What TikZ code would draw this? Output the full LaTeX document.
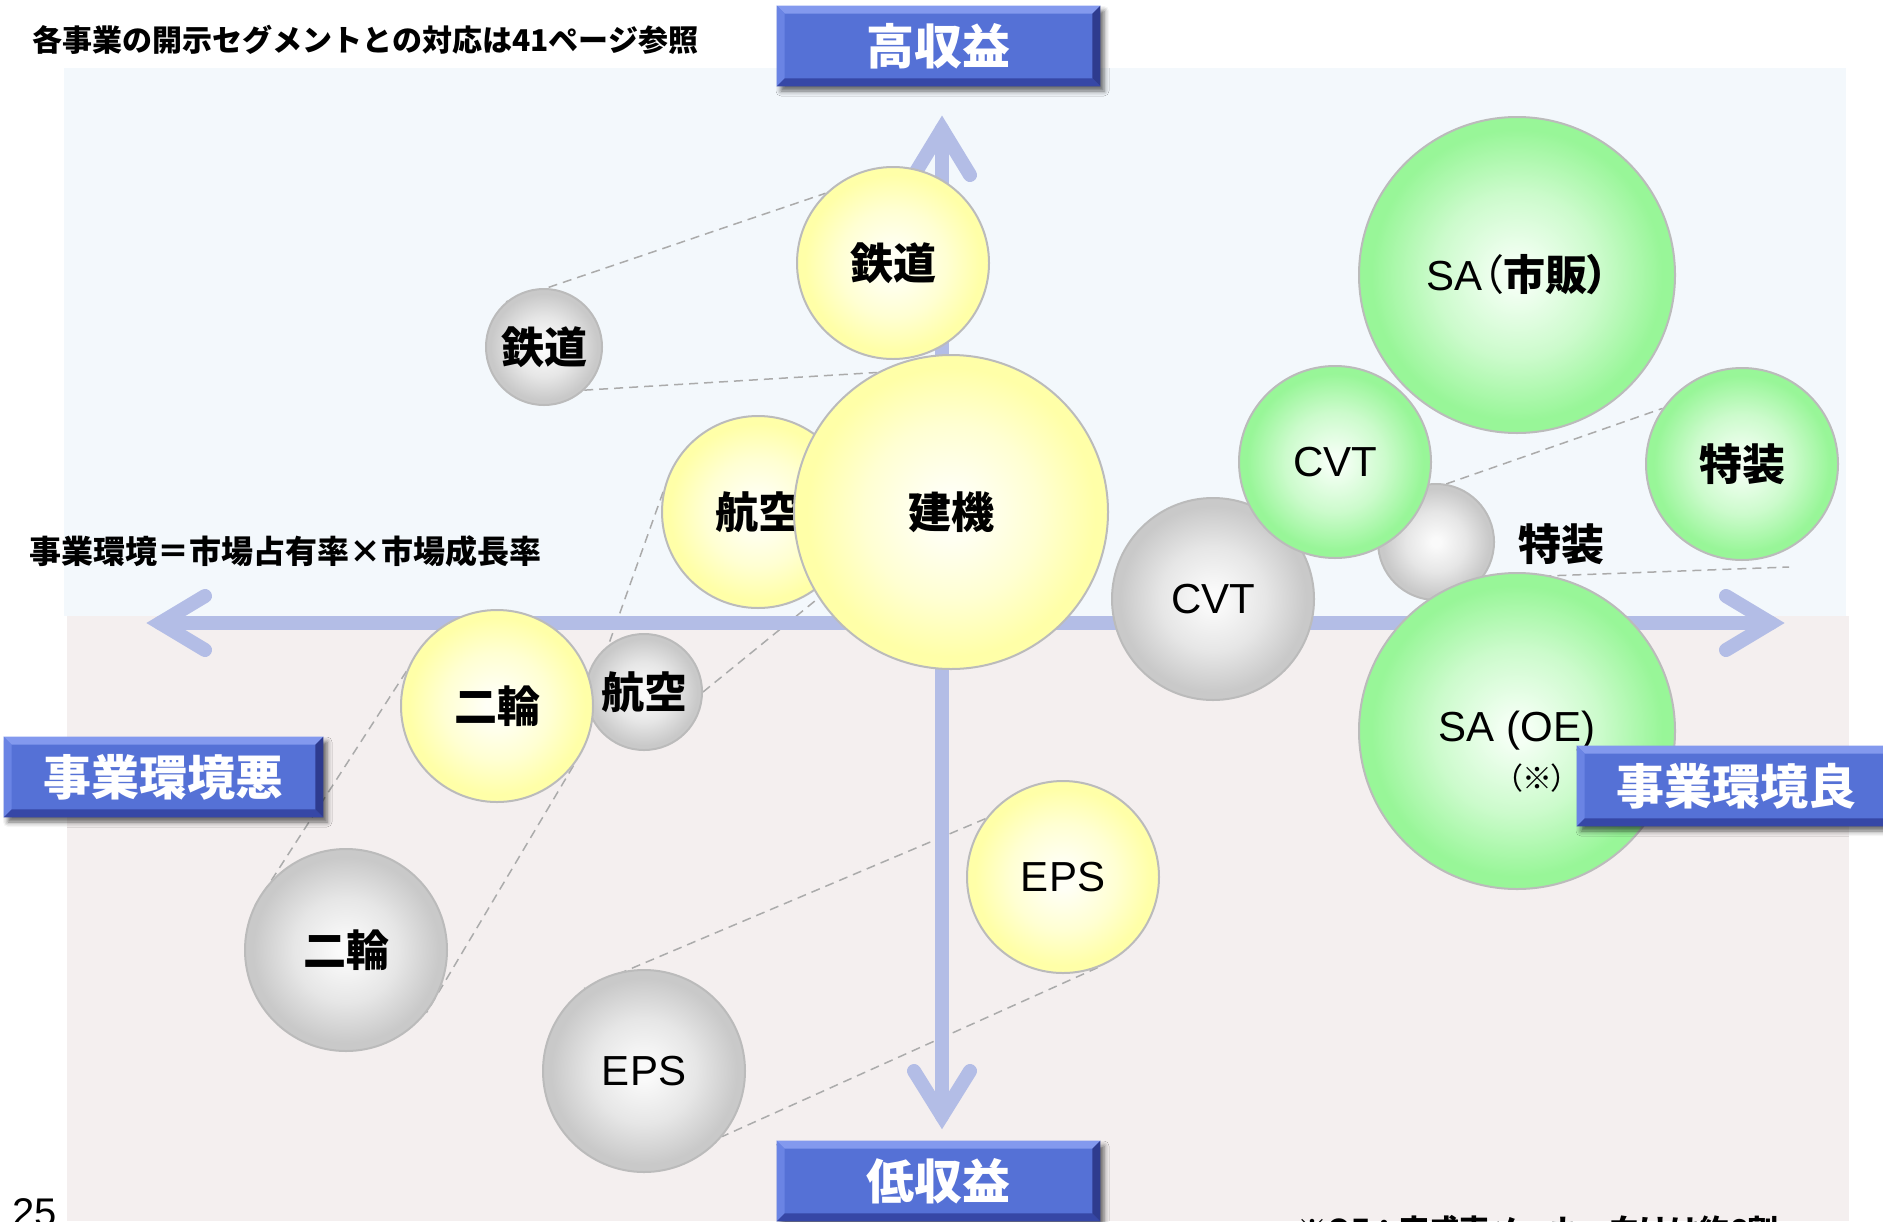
\documentclass[tikz,border=0pt]{standalone}
\usepackage{fontspec}
\setmainfont{Liberation Sans}
\newfontfamily\jp{Noto Sans CJK JP}
\newfontfamily\jpp{Noto Sans CJK JP}[RawFeature=+palt]
\usetikzlibrary{calc,shadows.blur}
\definecolor{upbg}{HTML}{F3F8FC}
\definecolor{lowbg}{HTML}{F4EFEF}
\definecolor{axiscol}{HTML}{B3BDE6}
\definecolor{dashcol}{HTML}{ABABAB}
\definecolor{bubline}{HTML}{BBBBBB}
\definecolor{yin}{HTML}{FFFFF6}
\definecolor{ymid}{HTML}{FFFFD2}
\definecolor{yout}{HTML}{FFFFA8}
\definecolor{gin}{HTML}{F4FFF4}
\definecolor{gmid}{HTML}{CCFBCC}
\definecolor{gout}{HTML}{98F698}
\definecolor{kin}{HTML}{FAFAFA}
\definecolor{kmid}{HTML}{E6E6E6}
\definecolor{kout}{HTML}{C9C9C9}
\definecolor{btnmain}{HTML}{5571D6}
\definecolor{btntop}{HTML}{8399EE}
\definecolor{btnleft}{HTML}{6A84E4}
\definecolor{btnbot}{HTML}{3647A6}
\definecolor{btnright}{HTML}{2E3B8E}
\pgfdeclareradialshading{yshade}{\pgfpoint{0bp}{0bp}}{color(0bp)=(yin); color(3bp)=(yin); color(14bp)=(ymid); color(23bp)=(yout); color(50bp)=(yout)}
\pgfdeclareradialshading{gshade}{\pgfpoint{0bp}{0bp}}{color(0bp)=(gin); color(2bp)=(gin); color(13bp)=(gmid); color(23bp)=(gout); color(50bp)=(gout)}
\pgfdeclareradialshading{kshade}{\pgfpoint{0bp}{0bp}}{color(0bp)=(kin); color(2bp)=(kin); color(13bp)=(kmid); color(23bp)=(kout); color(50bp)=(kout)}
\pgfdeclarelayer{bg}
\pgfdeclarelayer{lines}
\pgfdeclarelayer{axes}
\pgfsetlayers{bg,lines,axes,main}
\newcommand\bevelbtn[4]{%
  \node[btnbody, minimum width=#3] (#1) at #2 {};
  \fill[btntop] (#1.north west) -- (#1.north east) -- ($(#1.north east)+(-8,8)$) -- ($(#1.north west)+(8,8)$) -- cycle;
  \fill[btnleft] (#1.north west) -- ($(#1.north west)+(8,8)$) -- ($(#1.south west)+(8,-8)$) -- (#1.south west) -- cycle;
  \fill[btnbot] (#1.south west) -- ($(#1.south west)+(8,-8)$) -- ($(#1.south east)+(-8,-8)$) -- (#1.south east) -- cycle;
  \fill[btnright] (#1.north east) -- (#1.south east) -- ($(#1.south east)+(-8,-8)$) -- ($(#1.north east)+(-8,8)$) -- cycle;
  \node[btntext] (#1t) at (#1.center) {#4};
}
\begin{document}
\begin{tikzpicture}[x=0.5pt,y=-0.5pt,
  bub/.style={circle, inner sep=0pt, draw=bubline, line width=1pt, align=center},
  ybub/.style={bub, shading=yshade},
  gbub/.style={bub, shading=gshade},
  kbub/.style={bub, shading=kshade},
  jlab/.style={font=\jp\bfseries\fontsize{21.5pt}{24pt}\selectfont},
  elab/.style={font=\fontsize{21pt}{24pt}\selectfont},
  jnote/.style={inner sep=0pt, font=\jpp\fontsize{15pt}{18pt}\selectfont},
  dline/.style={draw=dashcol, line width=0.75pt, dash pattern=on 4.5pt off 3pt},
  axisline/.style={draw=axiscol, line width=7pt, line cap=round, line join=miter},
  btnbody/.style={fill=btnmain, minimum height=40pt, inner sep=0pt,
     blur shadow={shadow xshift=2pt, shadow yshift=-2.5pt, shadow blur radius=2.5pt, shadow opacity=60}},
  btntext/.style={text=white, inner sep=0pt, font=\jp\bfseries\fontsize{24pt}{28pt}\selectfont},
  plain/.style={inner sep=0pt, font=\jp\bfseries\fontsize{15pt}{18pt}\selectfont}
]
\useasboundingbox (0,0) rectangle (1883,1221);

% gray bubbles
\node[kbub, minimum size=58pt, jlab] (krail) at (544,347) {鉄道};
\node[kbub, minimum size=58pt, jlab] (kair) at (644,692) {航空};
\node[kbub, minimum size=101pt, jlab] (kmoto) at (346,950) {二輪};
\node[kbub, minimum size=101pt, elab] (keps) at (644,1071) {EPS};
\node[kbub, minimum size=101pt, elab] (kcvt) at (1213,599) {CVT};
\node[kbub, minimum size=58pt] (ktoku) at (1436,542) {};
% yellow bubbles
\node[ybub, minimum size=96pt, jlab] (yair) at (758,512) {航空};
\node[ybub, minimum size=96pt, jlab] (yrail) at (893,263) {鉄道};
\node[ybub, minimum size=157pt, jlab] (ykenki) at (951,512) {建機};
\node[ybub, minimum size=96pt, jlab] (ymoto) at (497,706) {二輪};
\node[ybub, minimum size=96pt, elab] (yeps) at (1063,877) {EPS};
% green bubbles
\node[gbub, minimum size=96pt, elab] (gcvt) at (1335,462) {CVT};
\node[gbub, minimum size=96pt, jlab] (gtoku) at (1742,464) {特装};
\node[gbub, minimum size=158pt, elab] (gsa) at (1517,275) {SA{\jpp（\bfseries 市販）}};
\node[gbub, minimum size=158pt, elab] (goe) at (1517,731) {SA (OE)};
\node[jnote] (goenote) at (1537,778) {（※）};
\node[jlab, inner sep=0pt] (tokulabel) at (1561,544) {特装};

% texts
\node[plain, anchor=west] (title) at (32,40) {各事業の開示セグメントとの対応は41ページ参照};
\node[plain, anchor=west, font=\jp\bfseries\fontsize{16pt}{18pt}\selectfont] (formula) at (29,551) {事業環境＝市場占有率×市場成長率};
\node[inner sep=0pt, anchor=base west, font=\fontsize{20pt}{24pt}\selectfont] (pageno) at (12,1226) {25};
\node[plain, anchor=base west] (footnote) at (1297,1241) {※OE：完成車メーカー向けは約6割};

% buttons
\bevelbtn{hi}{(938.5,46)}{161.5pt}{高収益}
\bevelbtn{lo}{(938.5,1181)}{161.5pt}{低収益}
\bevelbtn{bad}{(163.5,777)}{159.5pt}{事業環境悪}
\bevelbtn{good}{(1736.5,786)}{159.5pt}{事業環境良}

\begin{pgfonlayer}{bg}
  \fill[upbg] (64,68) rectangle (1846,616);
  \fill[lowbg] (67,616) rectangle (1849,1221);
\end{pgfonlayer}

\begin{pgfonlayer}{lines}
  \draw[dline] (krail.130) -- (yrail.134);
  \draw[dline] (krail.-47) -- (ykenki.118);
  \draw[dline] (yair.168) -- (kair.127);
  \draw[dline] (kair.0) -- (ykenki.213);
  \draw[dline] (ymoto.159) -- (kmoto.157);
  \draw[dline] (ymoto.-38) -- (kmoto.-38);
  \draw[dline] (yeps.143) -- (keps.126);
  \draw[dline] (yeps.-69) -- (keps.-40);
  \draw[dline] (ktoku.80) -- (gtoku.145);
  \coordinate (tokuend) at (1789,567);
  \draw[dline] (ktoku.-38) -- (tokuend);
\end{pgfonlayer}

\begin{pgfonlayer}{axes}
  \coordinate (axL) at (160,623);
  \coordinate (axR) at (1771,623);
  \coordinate (axT) at (942,129);
  \coordinate (axB) at (942,1116);
  \draw[axisline] (axL) -- (axR);
  \draw[axisline] (axT) -- (axB);
  \draw[axisline] (205,596) -- (axL) -- (205,650);
  \draw[axisline] (1726,596) -- (axR) -- (1726,650);
  \draw[axisline] (914,175) -- (axT) -- (970,175);
  \draw[axisline] (914,1071) -- (axB) -- (970,1071);
\end{pgfonlayer}
\end{tikzpicture}
\end{document}
